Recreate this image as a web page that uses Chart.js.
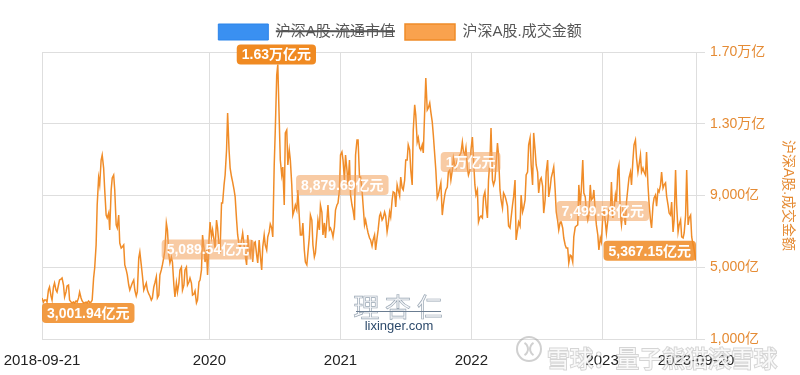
<!DOCTYPE html>
<html lang="zh-CN">
<head>
<meta charset="utf-8">
<title>沪深A股.成交金额</title>
<script src="https://cdn.jsdelivr.net/npm/chart.js@4.4.0/dist/chart.umd.min.js"></script>
<style>
  html, body { margin: 0; padding: 0; background: #fff; }
  #wrap { width: 800px; height: 375px; }
</style>
</head>
<body>
<div id="wrap"><canvas id="chart" width="800" height="375"></canvas></div>
<script>
const startDate = '2018-09-21';

// weekly closes (Fridays) plus the last day, turnover in 亿元
const tradeDates = `
2018-09-21 2018-09-28 2018-10-05 2018-10-12 2018-10-19 2018-10-26 2018-11-02 2018-11-09 2018-11-16 2018-11-23 2018-11-30 2018-12-07 2018-12-14 2018-12-21 2018-12-28
2019-01-04 2019-01-11 2019-01-18 2019-01-25 2019-02-01 2019-02-08 2019-02-15 2019-02-22 2019-03-01 2019-03-08 2019-03-15 2019-03-22 2019-03-29 2019-04-05 2019-04-12 2019-04-19 2019-04-26
2019-05-03 2019-05-10 2019-05-17 2019-05-24 2019-05-31 2019-06-07 2019-06-14 2019-06-21 2019-06-28 2019-07-05 2019-07-12 2019-07-19 2019-07-26 2019-08-02 2019-08-09 2019-08-16 2019-08-23
2019-08-30 2019-09-06 2019-09-13 2019-09-20 2019-09-27 2019-10-04 2019-10-11 2019-10-18 2019-10-25 2019-11-01 2019-11-08 2019-11-15 2019-11-22 2019-11-29 2019-12-06 2019-12-13 2019-12-20 2019-12-27
2020-01-03 2020-01-10 2020-01-17 2020-01-24 2020-01-31 2020-02-07 2020-02-14 2020-02-21 2020-02-28 2020-03-06 2020-03-13 2020-03-20 2020-03-27 2020-04-03 2020-04-10 2020-04-17 2020-04-24
2020-05-01 2020-05-08 2020-05-15 2020-05-22 2020-05-29 2020-06-05 2020-06-12 2020-06-19 2020-06-26 2020-07-03 2020-07-10 2020-07-17 2020-07-24 2020-07-31 2020-08-07 2020-08-14 2020-08-21
2020-08-28 2020-09-04 2020-09-11 2020-09-18 2020-09-25 2020-10-02 2020-10-09 2020-10-16 2020-10-23 2020-10-30 2020-11-06 2020-11-13 2020-11-20 2020-11-27 2020-12-04 2020-12-11 2020-12-18 2020-12-25
2021-01-01 2021-01-08 2021-01-15 2021-01-22 2021-01-29 2021-02-05 2021-02-12 2021-02-19 2021-02-26 2021-03-05 2021-03-12 2021-03-19 2021-03-26 2021-04-02 2021-04-09 2021-04-16 2021-04-23 2021-04-30
2021-05-07 2021-05-14 2021-05-21 2021-05-28 2021-06-04 2021-06-11 2021-06-18 2021-06-25 2021-07-02 2021-07-09 2021-07-16 2021-07-23 2021-07-30 2021-08-06 2021-08-13 2021-08-20 2021-08-27
2021-09-03 2021-09-10 2021-09-17 2021-09-24 2021-10-01 2021-10-08 2021-10-15 2021-10-22 2021-10-29 2021-11-05 2021-11-12 2021-11-19 2021-11-26 2021-12-03 2021-12-10 2021-12-17 2021-12-24 2021-12-31
2022-01-07 2022-01-14 2022-01-21 2022-01-28 2022-02-04 2022-02-11 2022-02-18 2022-02-25 2022-03-04 2022-03-11 2022-03-18 2022-03-25 2022-04-01 2022-04-08 2022-04-15 2022-04-22 2022-04-29
2022-05-06 2022-05-13 2022-05-20 2022-05-27 2022-06-03 2022-06-10 2022-06-17 2022-06-24 2022-07-01 2022-07-08 2022-07-15 2022-07-22 2022-07-29 2022-08-05 2022-08-12 2022-08-19 2022-08-26
2022-09-02 2022-09-09 2022-09-16 2022-09-23 2022-09-30 2022-10-07 2022-10-14 2022-10-21 2022-10-28 2022-11-04 2022-11-11 2022-11-18 2022-11-25 2022-12-02 2022-12-09 2022-12-16 2022-12-23 2022-12-30
2023-01-06 2023-01-13 2023-01-20 2023-01-27 2023-02-03 2023-02-10 2023-02-17 2023-02-24 2023-03-03 2023-03-10 2023-03-17 2023-03-24 2023-03-31 2023-04-07 2023-04-14 2023-04-21 2023-04-28
2023-05-05 2023-05-12 2023-05-19 2023-05-26 2023-06-02 2023-06-09 2023-06-16 2023-06-23 2023-06-30 2023-07-07 2023-07-14 2023-07-21 2023-07-28 2023-08-04 2023-08-11 2023-08-18 2023-08-25
2023-09-01 2023-09-08 2023-09-15 2023-09-20
`.trim().split(/\s+/);

const turnover = [
  3290, 3170, 3060, 3900, 3170, 4120, 3620, 4290, 4400, 3340, 3960, 3170, 3010, 3001.94, 3060,
  3620, 3120, 3030, 3010, 3040, 3170, 4960, 8470, 9590, 11260, 9310, 7750, 7080, 9980, 9310, 7190, 6350,
  6130, 5130, 4570, 3730, 4120, 3730, 3620, 5850, 4570, 3900, 3730, 3400, 3290, 4120, 3290, 4570, 5130,
  5960, 7080, 5240, 5290, 3340, 3620, 4850, 3730, 4850, 4010, 4400, 3450, 3680, 3170, 4290, 6800, 5290, 4570,
  7520, 7080, 6070, 7190, 5960, 8580, 10140, 13600, 10530, 9750, 8920, 6800, 6070, 6910, 5680, 6800, 5680,
  5290, 6410, 5240, 5680, 6130, 6240, 6690, 7410, 6690, 12650, 16300, 10980, 10590, 12490, 10700, 10980, 7910,
  8470, 9310, 6800, 7470, 5290, 5800, 7910, 6240, 5800, 7630, 8470, 6800, 6630, 8470, 7190, 6690, 8190, 8580,
  11260, 10980, 11260, 9590, 9030, 8190, 11260, 12090, 10030, 8470, 7630, 6910, 6520, 6520, 5960, 7080, 8020, 7750,
  7860, 7360, 7800, 9200, 8360, 9310, 10030, 9310, 10980, 11820, 10420, 12650, 13490, 12210, 11540, 11370, 15550,
  13880, 13660, 12370, 10420, 9030, 9700, 8470, 9310, 10310, 9860, 11090, 10530, 11090, 11370, 11430, 11650, 10140, 11540,
  11090, 9030, 7520, 7860, 8920, 8470, 9860, 12760, 9590, 10700, 11260, 8750, 9140, 8750, 7300, 7750, 8920,
  6520, 7520, 9030, 8300, 10140, 11820, 10700, 12490, 10700, 9140, 9980, 8020, 10310, 8920, 9980, 10590, 8080,
  7080, 7520, 6630, 6070, 5240, 5630, 6690, 7300, 9590, 9310, 9140, 8080, 7910, 8750, 9310, 7360, 5960, 6410,
  8190, 6910, 8190, 9750, 8190, 8640, 10700, 7360, 7910, 8640, 9980, 9590, 11820, 11090, 10700, 10310, 10310,
  11430, 8580, 7190, 8860, 8410, 9200, 10310, 9590, 8970, 8020, 8640, 7630, 8470, 7360, 6690, 6910, 10420,
  7750, 6690, 5960, 5367.15
];

// turnover on the Tuesday following each Friday above (4 days later), 亿元
const midweekTurnover = [
  3060, 3170, 3730, 3400, 3900, 3730, 4010, 4340, 4010, 3620, 4010, 3060, 3060, 3120, 3290,
  3290, 3010, 3060, 3120, 3060, 4400, 6240, 9980, 10980, 10530, 7910, 8020, 9310, 10140, 7360, 7910, 6070,
  6240, 4850, 4010, 3960, 4290, 3400, 5520, 5130, 3730, 4120, 3510, 3170, 3900, 4460, 3450, 4850, 5570,
  7470, 5680, 5570, 4010, 4120, 4120, 5010, 4010, 5010, 4180, 4120, 3510, 3010, 4180, 4850, 6070, 5960, 6520,
  6690, 6520, 7630, 6130, 8580, 9590, 11540, 11540, 10030, 9310, 7630, 6240, 6520, 6240, 5130, 5960, 6520,
  6350, 5680, 6520, 4850, 6800, 5960, 6970, 7190, 10700, 15720, 13210, 10140, 8470, 12650, 11540, 9590, 8190,
  8190, 7800, 6800, 5960, 5130, 6690, 7630, 5570, 6800, 7080, 8080, 7470, 7630, 7080, 6970, 7240, 8470, 9310,
  11430, 9860, 10420, 10980, 8470, 7630, 12090, 10030, 9310, 7360, 7190, 6630, 6180, 6800, 6630, 7860, 7630, 8080,
  6970, 8080, 8750, 9140, 9590, 8970, 9420, 9860, 10980, 11540, 9590, 14050, 11980, 11650, 11820, 13770, 13770,
  14160, 13100, 11260, 8860, 9420, 7910, 9030, 9470, 10420, 10420, 10700, 10980, 11260, 11980, 11260, 10530, 10420, 12260,
  9590, 9310, 7800, 7750, 9200, 7750, 10980, 9860, 9860, 11930, 9310, 8300, 8970, 8410, 7190, 8470, 9860,
  7080, 7300, 8080, 8750, 10310, 12210, 9590, 11540, 10310, 9860, 9530, 8750, 10980, 9420, 10310, 9310, 7580,
  7520, 7190, 6240, 6070, 5680, 5290, 7240, 7360, 8470, 10980, 8920, 7630, 9590, 8860, 8080, 6800, 6630, 7910,
  7520, 7630, 8080, 7750, 9030, 10420, 7910, 8190, 7360, 9420, 10310, 10980, 12090, 10310, 11260, 10530, 10140,
  9590, 7630, 8470, 9030, 9310, 9590, 9420, 9700, 8470, 7910, 6970, 10420, 6970, 7630, 6630, 7910, 7360,
  7910, 6240
];

const seriesNames = ['沪深A股.流通市值', '沪深A股.成交金额'];

const xTickDates = ['2018-09-21', '2020-01-01', '2021-01-01', '2022-01-01', '2023-01-01', '2023-09-20'];
const xTickLabels = ['2018-09-21', '2020', '2021', '2022', '2023', '2023-09-20'];
const yTickValues = [1000, 5000, 9000, 13000, 17000];
const yTickLabels = ['1,000亿', '5,000亿', '9,000亿', '1.30万亿', '1.70万亿'];

// marker labels drawn on the chart, anchored at (date, value)
const markTexts = ['1.63万亿元', '3,001.94亿元', '5,089.54亿元', '8,879.69亿元', '1万亿元', '7,499.58亿元', '5,367.15亿元'];
const markDates = ['2020-07-06', '2018-09-21', '2019-12-28', '2021-01-06', '2021-12-30', '2023-01-03', '2023-09-20'];
const markValues = [16300, 3001.94, 5990, 9590, 10870, 8140, 5367.15];

const markStyles = [
  { fill: '#f08a22', align: 'center', place: 'above' },
  { fill: 'rgba(240,138,34,0.85)', align: 'left', place: 'below' },
  { fill: 'rgba(243,160,90,0.55)', align: 'center', place: 'middle' },
  { fill: 'rgba(243,160,90,0.55)', align: 'center', place: 'middle' },
  { fill: 'rgba(243,160,90,0.55)', align: 'center', place: 'middle' },
  { fill: 'rgba(243,160,90,0.55)', align: 'center', place: 'middle' },
  { fill: 'rgba(240,138,34,0.85)', align: 'right', place: 'above' }
];

const family = '"Liberation Sans", "Noto Sans CJK SC", sans-serif';
const orangeText = '#e58b34';
const gridColor = '#dedede';

const toDay = d => (Date.parse(d) - Date.parse(startDate)) / 86400000;

const points = [];
tradeDates.forEach((d, i) => {
    points.push({ x: toDay(d), y: turnover[i] });
    if (midweekTurnover[i] !== undefined) {
        points.push({ x: toDay(d) + 4, y: midweekTurnover[i] });
    }
});

Chart.defaults.font.family = family;

const legendHeight = {
    id: 'legendHeight',
    beforeInit(chart) {
        const fit = chart.legend.fit;
        chart.legend.fit = function () {
            fit.call(this);
            this.height = 38;
        };
    }
};

const markLabels = {
    id: 'markLabels',
    afterDatasetsDraw(chart) {
        const { ctx, scales: { x, y } } = chart;
        ctx.save();
        ctx.font = 'bold 14px ' + family;
        ctx.textBaseline = 'middle';
        markTexts.forEach((text, i) => {
            const st = markStyles[i];
            const px = x.getPixelForValue(toDay(markDates[i]));
            const py = y.getPixelForValue(markValues[i]);
            const w = ctx.measureText(text).width + 10;
            const h = 20;
            const left = st.align === 'left' ? px : st.align === 'right' ? px - w : px - w / 2;
            const top = st.place === 'above' ? py - h : st.place === 'below' ? py : py - h / 2;
            ctx.fillStyle = st.fill;
            ctx.beginPath();
            ctx.roundRect(left, top, w, h, 4);
            ctx.fill();
            ctx.fillStyle = '#fff';
            ctx.fillText(text, left + 5, top + h / 2 + 1);
        });
        ctx.restore();
    }
};

const watermarks = {
    id: 'watermarks',
    afterDraw(chart) {
        const ctx = chart.ctx;
        ctx.save();
        ctx.textAlign = 'center';
        // lixinger logo
        ctx.font = '26px "Noto Sans CJK SC"';
        ctx.lineWidth = 0.7;
        ctx.strokeStyle = '#9aa7b4';
        ctx.fillStyle = '#f7f8fa';
        ctx.fillText('理 杏 仁', 398, 307);
        ctx.strokeText('理 杏 仁', 398, 307);
        ctx.strokeStyle = '#6b7d91';
        ctx.lineWidth = 1;
        ctx.beginPath();
        ctx.moveTo(356, 311.5);
        ctx.lineTo(441, 311.5);
        ctx.stroke();
        ctx.font = '13px ' + family;
        ctx.fillStyle = '#2d4a6b';
        ctx.fillText('lixinger.com', 399, 326);
        // xueqiu watermark
        ctx.strokeStyle = 'rgba(150,150,150,0.45)';
        ctx.lineWidth = 2;
        ctx.beginPath();
        ctx.arc(529, 349, 12, 0, Math.PI * 2);
        ctx.stroke();
        ctx.beginPath();
        ctx.arc(521, 349, 7, -Math.PI / 3, Math.PI / 3);
        ctx.stroke();
        ctx.beginPath();
        ctx.arc(537, 349, 7, Math.PI * 2 / 3, Math.PI * 4 / 3);
        ctx.stroke();
        ctx.font = '23px "Noto Sans CJK SC"';
        ctx.textAlign = 'left';
        ctx.lineWidth = 2;
        ctx.strokeStyle = 'rgba(150,150,150,0.4)';
        ctx.fillStyle = 'rgba(255,255,255,0.85)';
        ctx.strokeText('雪球：量子熊猫滚雪球', 547, 358);
        ctx.fillText('雪球：量子熊猫滚雪球', 547, 358);
        ctx.restore();
    }
};

const renderChart = () => {
    const ctx = document.getElementById('chart').getContext('2d');
    new Chart(ctx, {
        type: 'line',
        data: {
            datasets: [{
                label: seriesNames[0],
                data: [],
                hidden: true,
                borderColor: '#2b84ea',
                backgroundColor: '#3a90f1',
                borderWidth: 1
            }, {
                label: seriesNames[1],
                data: points,
                borderColor: '#f08c28',
                backgroundColor: '#f9a24e',
                borderWidth: 1.5,
                pointRadius: 0,
                tension: 0
            }]
        },
        options: {
            responsive: false,
            animation: false,
            layout: { padding: { left: 0, top: 14, right: 0, bottom: 0 } },
            plugins: {
                legend: {
                    onClick: null,
                    labels: {
                        boxWidth: 50,
                        boxHeight: 16,
                        padding: 10,
                        color: '#555',
                        font: { size: 15 }
                    }
                },
                tooltip: { enabled: false }
            },
            scales: {
                x: {
                    type: 'linear',
                    min: 0,
                    max: toDay('2023-09-20'),
                    afterBuildTicks: s => { s.ticks = xTickDates.map(d => ({ value: toDay(d) })); },
                    afterFit: s => {
                        s.height = 36;
                        s.paddingLeft = 42;
                        s.paddingRight = 0;
                    },
                    ticks: {
                        autoSkip: false,
                        maxRotation: 0,
                        padding: 13,
                        color: '#222',
                        font: { size: 15 },
                        callback: (v, i) => xTickLabels[i]
                    },
                    grid: { color: gridColor, drawTicks: false },
                    border: { display: false }
                },
                y: {
                    position: 'right',
                    min: 1000,
                    max: 17000,
                    afterBuildTicks: s => { s.ticks = yTickValues.map(v => ({ value: v })); },
                    afterFit: s => { s.width = 104; },
                    ticks: {
                        padding: 5,
                        color: orangeText,
                        font: { size: 14 },
                        callback: (v, i) => yTickLabels[i]
                    },
                    grid: { color: gridColor, tickLength: 9 },
                    border: { color: gridColor },
                    title: {
                        display: true,
                        text: seriesNames[1],
                        color: orangeText,
                        font: { size: 14 }
                    }
                }
            }
        },
        plugins: [legendHeight, markLabels, watermarks]
    });
};

document.addEventListener('DOMContentLoaded', renderChart);
</script>
</body>
</html>
